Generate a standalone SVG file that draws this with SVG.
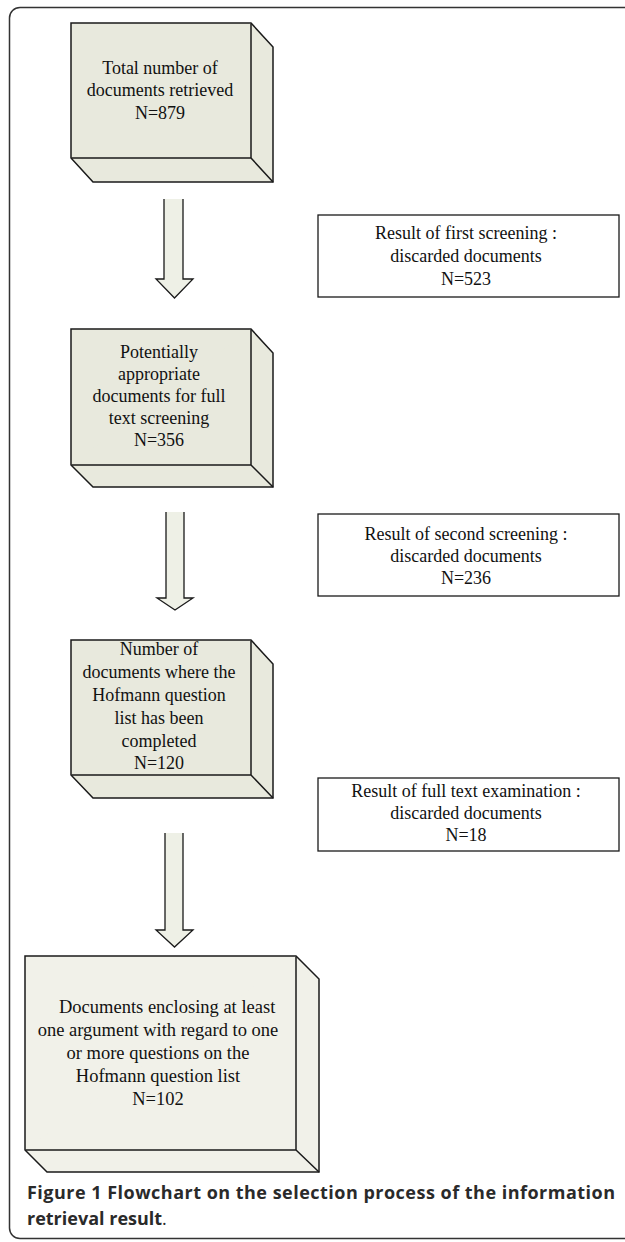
<svg xmlns="http://www.w3.org/2000/svg" width="625" height="1242" viewBox="0 0 625 1242">
<style>
.box{fill:#e8e9dd;stroke:#1a1a1a;stroke-width:1.5;stroke-linejoin:miter}
.box4{fill:#f1f1e9;stroke:#1a1a1a;stroke-width:1.5}
.rbox{fill:#ffffff;stroke:#1a1a1a;stroke-width:1.3}
.t{font-family:"Liberation Serif","Times New Roman",serif;font-size:18px;fill:#111;text-anchor:middle}
.afill{fill:#eef0e6;stroke:none}
.aline{fill:none;stroke:#1a1a1a;stroke-width:1.3}
.cap{font-family:"Open Sans","Liberation Sans",sans-serif;font-size:18px;fill:#2a2a2a}
</style>
<rect width="625" height="1242" fill="#ffffff"/>
<path d="M625,7.5 H20 A10.5,10.5 0 0 0 9.5,18 V1228 A10.5,10.5 0 0 0 20,1238.5 H625" fill="none" stroke="#333" stroke-width="1.5"/>

<g id="node1">
<path class="box" d="M71,23 H251 L273,47 V182 H93 L71,158 Z"/>
<path class="box" d="M71,158 H251 V23 M251,158 L273,182"/>
<text class="t" x="160" y="74">Total number of</text>
<text class="t" x="160" y="96">documents retrieved</text>
<text class="t" x="160" y="119">N=879</text>
</g>

<g id="node2">
<path class="box" d="M71,329 H251 L273,353 V487 H93 L71,465 Z"/>
<path class="box" d="M71,465 H251 V329 M251,465 L273,487"/>
<text class="t" x="159" y="358">Potentially</text>
<text class="t" x="159" y="380">appropriate</text>
<text class="t" x="159" y="402">documents for full</text>
<text class="t" x="159" y="424">text screening</text>
<text class="t" x="159" y="446">N=356</text>
</g>

<g id="node3">
<path class="box" d="M71,640 H251 L273,664 V798 H93 L71,775 Z"/>
<path class="box" d="M71,775 H251 V640 M251,775 L273,798"/>
<text class="t" x="159" y="655">Number of</text>
<text class="t" x="159" y="678">documents where the</text>
<text class="t" x="159" y="701">Hofmann question</text>
<text class="t" x="159" y="724">list has been</text>
<text class="t" x="159" y="747">completed</text>
<text class="t" x="159" y="769">N=120</text>
</g>

<g id="node4">
<path class="box4" d="M25,956 H296 L319,979 V1172 H47 L25,1150 Z"/>
<path class="box4" d="M25,1150 H296 V956 M296,1150 L319,1172"/>
<text class="t" x="59" y="1013" style="text-anchor:start;font-size:18.5px">Documents enclosing at least</text>
<text class="t" x="158" y="1036" style="font-size:18.5px">one argument with regard to one</text>
<text class="t" x="158" y="1059" style="font-size:18.5px">or more questions on the</text>
<text class="t" x="158" y="1082" style="font-size:18.5px">Hofmann question list</text>
<text class="t" x="158" y="1105" style="font-size:18.5px">N=102</text>
</g>

<g id="side1">
<rect class="rbox" x="318" y="215" width="301" height="82"/>
<text class="t" x="466" y="239">Result of first screening :</text>
<text class="t" x="466" y="262">discarded documents</text>
<text class="t" x="466" y="285">N=523</text>
</g>

<g id="side2">
<rect class="rbox" x="318" y="514" width="301" height="82"/>
<text class="t" x="466" y="540">Result of second screening :</text>
<text class="t" x="466" y="562">discarded documents</text>
<text class="t" x="466" y="584">N=236</text>
</g>

<g id="side3">
<rect class="rbox" x="318" y="778" width="301" height="73"/>
<text class="t" x="466" y="797">Result of full text examination :</text>
<text class="t" x="466" y="819">discarded documents</text>
<text class="t" x="466" y="841">N=18</text>
</g>

<g id="connectors">
<polygon class="afill" points="164,199 183,199 183,279 193,279 174.5,298 156,279 164,279"/>
<polyline class="aline" points="164,199 164,279 156,279 174.5,298 193,279 183,279 183,199"/>
<polygon class="afill" points="166,512 184,512 184,598 193,598 175,610 157,598 166,598"/>
<polyline class="aline" points="166,512 166,598 157,598 175,610 193,598 184,598 184,512"/>
<polygon class="afill" points="165,833 183,833 183,930 193,930 174.5,947 156,930 165,930"/>
<polyline class="aline" points="165,833 165,930 156,930 174.5,947 193,930 183,930 183,833"/>
</g>

<g id="caption">
<text class="cap" x="27" y="1199" textLength="588" lengthAdjust="spacing" font-weight="bold">Figure 1 Flowchart on the selection process of the information</text>
<text class="cap" x="27" y="1225"><tspan font-weight="bold">retrieval result</tspan>.</text>
</g>
</svg>
